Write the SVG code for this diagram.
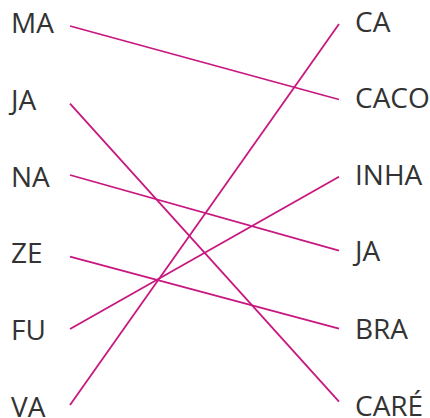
<svg xmlns="http://www.w3.org/2000/svg" width="430" height="418" viewBox="0 0 430 418">
<style>
text{font-family:"Open Sans","Noto Sans",sans-serif;font-size:28px;fill:#333333}
.c line{stroke:#c8177f;stroke-width:1.8;stroke-linecap:butt}
</style>
<rect width="430" height="418" fill="#ffffff"/>
<g id="left">
<g id="n-ma"><text x="11" y="33">MA</text></g>
<g id="n-ja1"><text x="11" y="110">JA</text></g>
<g id="n-na"><text x="11" y="187">NA</text></g>
<g id="n-ze"><text x="11" y="263">ZE</text></g>
<g id="n-fu"><text x="11" y="340">FU</text></g>
<g id="n-va"><text x="11" y="417">VA</text></g>
</g>
<g id="right">
<g id="n-ca"><text x="355" y="32">CA</text></g>
<g id="n-caco"><text x="355" y="108">CACO</text></g>
<g id="n-inha"><text x="355" y="185">INHA</text></g>
<g id="n-ja2"><text x="355" y="261">JA</text></g>
<g id="n-bra"><text x="355" y="339">BRA</text></g>
<g id="n-care"><text x="355" y="416">CARÉ</text></g>
</g>
<g id="connectors" class="c">
<line x1="70" y1="26" x2="339" y2="99.5"/>
<line x1="70" y1="103.7" x2="339" y2="401.7"/>
<line x1="70" y1="175" x2="339" y2="250.7"/>
<line x1="70" y1="256.7" x2="339" y2="328.7"/>
<line x1="70" y1="329" x2="339" y2="176.7"/>
<line x1="70" y1="405" x2="339" y2="24"/>
</g>
</svg>
